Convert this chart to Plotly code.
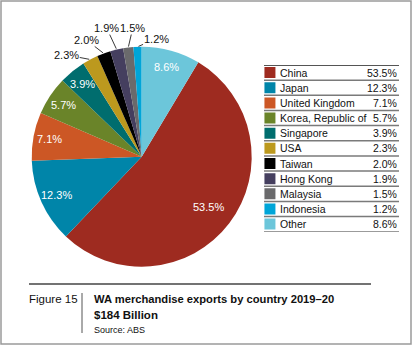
import math
import plotly.graph_objects as go

countries = ["China", "Japan", "United Kingdom", "Korea, Republic of", "Singapore",
             "USA", "Taiwan", "Hong Kong", "Malaysia", "Indonesia", "Other"]
shares = [53.5, 12.3, 7.1, 5.7, 3.9, 2.3, 2.0, 1.9, 1.5, 1.2, 8.6]
colors = ["#9E2B20", "#0085A9", "#CC5725", "#6A8429", "#006D6E", "#BC991E",
          "#000000", "#453F5F", "#6A6A6C", "#00A5D8", "#6CC6DA"]
share_labels = [f"{v:.1f}%" for v in shares]

FONT = "Liberation Sans, Arial, sans-serif"
W, H = 414, 346

# pie placement (pixels)
CX, CY, R = 141.7, 156.7, 110
ROT = shares[-1] * 3.6  # first slice starts here (deg clockwise from 12 o'clock)

fig = go.Figure()
fig.add_trace(go.Pie(
    labels=countries, values=shares, sort=False, direction="clockwise",
    rotation=ROT,
    marker=dict(colors=colors, line=dict(color="rgba(0,0,0,0)", width=0)),
    textinfo="none",
    domain=dict(x=[(CX - R) / W, (CX + R) / W], y=[1 - (CY + R) / H, 1 - (CY - R) / H]),
    showlegend=False, hoverinfo="label+percent",
))

# slice label placement (style offsets for small outside labels, in px)
outside_offsets = {"USA": (-23.5, -4.5), "Taiwan": (-17.5, -13.5), "Hong Kong": (-10, -21.5),
                   "Malaysia": (4.5, -19.5), "Indonesia": (18.5, -8)}
total = sum(shares)
cum = 0.0
for c, v, lab in zip(countries, shares, share_labels):
    mid = ROT + (cum + v / 2) / total * 360.0
    cum += v
    s, co = math.sin(math.radians(mid)), math.cos(math.radians(mid))
    if c in outside_offsets:
        px, py = CX + R * s, CY - R * co
        ax, ay = outside_offsets[c]
        fig.add_annotation(x=px / W, y=1 - py / H, xref="paper", yref="paper", text=lab,
                           showarrow=True, arrowhead=0, arrowwidth=0.9, arrowcolor="#222222",
                           ax=ax, ay=ay, standoff=1, borderpad=0,
                           font=dict(family=FONT, size=11, color="#111111"))
    else:
        rf = 0.76 if v > 50 else 0.85
        px, py = CX + rf * R * s, CY - rf * R * co
        fig.add_annotation(x=px / W, y=1 - py / H, xref="paper", yref="paper", text=lab,
                           showarrow=False, xanchor="center", yanchor="middle",
                           font=dict(family=FONT, size=11, color="white"))

# legend table on its own axes
x0p, x1p = 264, 399
y0p, y1p = 65, 231.7
n = len(countries)
rows = list(range(n))
fig.add_trace(go.Scatter(
    x=[0.044] * n, y=rows, mode="markers",
    marker=dict(symbol="square", size=11, color=colors, line=dict(width=0)),
    xaxis="x2", yaxis="y2", showlegend=False, hoverinfo="skip",
))
for i, (c, lab) in enumerate(zip(countries, share_labels)):
    fig.add_annotation(x=0.1, y=i, xref="x2", yref="y2", text=c, showarrow=False,
                       xanchor="left", yanchor="middle",
                       font=dict(family=FONT, size=10.5, color="#111111"))
    fig.add_annotation(x=1.0, y=i, xref="x2", yref="y2", text=lab, showarrow=False,
                       xanchor="right", yanchor="middle",
                       font=dict(family=FONT, size=10.5, color="#111111"))
for i in range(n + 1):
    fig.add_shape(type="line", x0=0, x1=1, y0=i - 0.5, y1=i - 0.5, xref="x2", yref="y2",
                  line=dict(color="#555555" if i == 0 else "#7a7a7a",
                            width=2 if i == 0 else 1.5))

# caption
fig.add_shape(type="line", xref="paper", yref="paper", x0=29 / W, x1=371 / W,
              y0=1 - 284 / H, y1=1 - 284 / H, line=dict(color="#444444", width=1.5))
fig.add_shape(type="line", xref="paper", yref="paper", x0=82 / W, x1=82 / W,
              y0=1 - 293 / H, y1=1 - 333 / H, line=dict(color="#555555", width=1))
fig.add_annotation(x=27 / W, y=1 - 299 / H, xref="paper", yref="paper", text="Figure 15",
                   showarrow=False, xanchor="left", yanchor="middle",
                   font=dict(family=FONT, size=11.5, color="#111111"))
fig.add_annotation(x=92 / W, y=1 - 299 / H, xref="paper", yref="paper",
                   text="<b>WA merchandise exports by country 2019–20</b>",
                   showarrow=False, xanchor="left", yanchor="middle",
                   font=dict(family=FONT, size=11.2, color="#111111"))
fig.add_annotation(x=92 / W, y=1 - 315 / H, xref="paper", yref="paper",
                   text="<b>$184 Billion</b>",
                   showarrow=False, xanchor="left", yanchor="middle",
                   font=dict(family=FONT, size=11.5, color="#111111"))
fig.add_annotation(x=92 / W, y=1 - 330 / H, xref="paper", yref="paper",
                   text="Source: ABS",
                   showarrow=False, xanchor="left", yanchor="middle",
                   font=dict(family=FONT, size=9, color="#111111"))
# frame
fig.add_shape(type="rect", xref="paper", yref="paper", x0=1 / W, x1=411 / W,
              y0=1 - 344 / H, y1=1 - 1 / H, line=dict(color="#9a9a9a", width=1.5))

fig.update_layout(
    width=W, height=H, margin=dict(l=0, r=0, t=0, b=0),
    paper_bgcolor="white", plot_bgcolor="white",
    xaxis2=dict(domain=[x0p / W, x1p / W], range=[0, 1], visible=False, fixedrange=True),
    yaxis2=dict(domain=[1 - y1p / H, 1 - y0p / H], range=[n - 0.5, -0.5], visible=False,
                fixedrange=True, anchor="x2"),
)
fig.write_html("out.html")
